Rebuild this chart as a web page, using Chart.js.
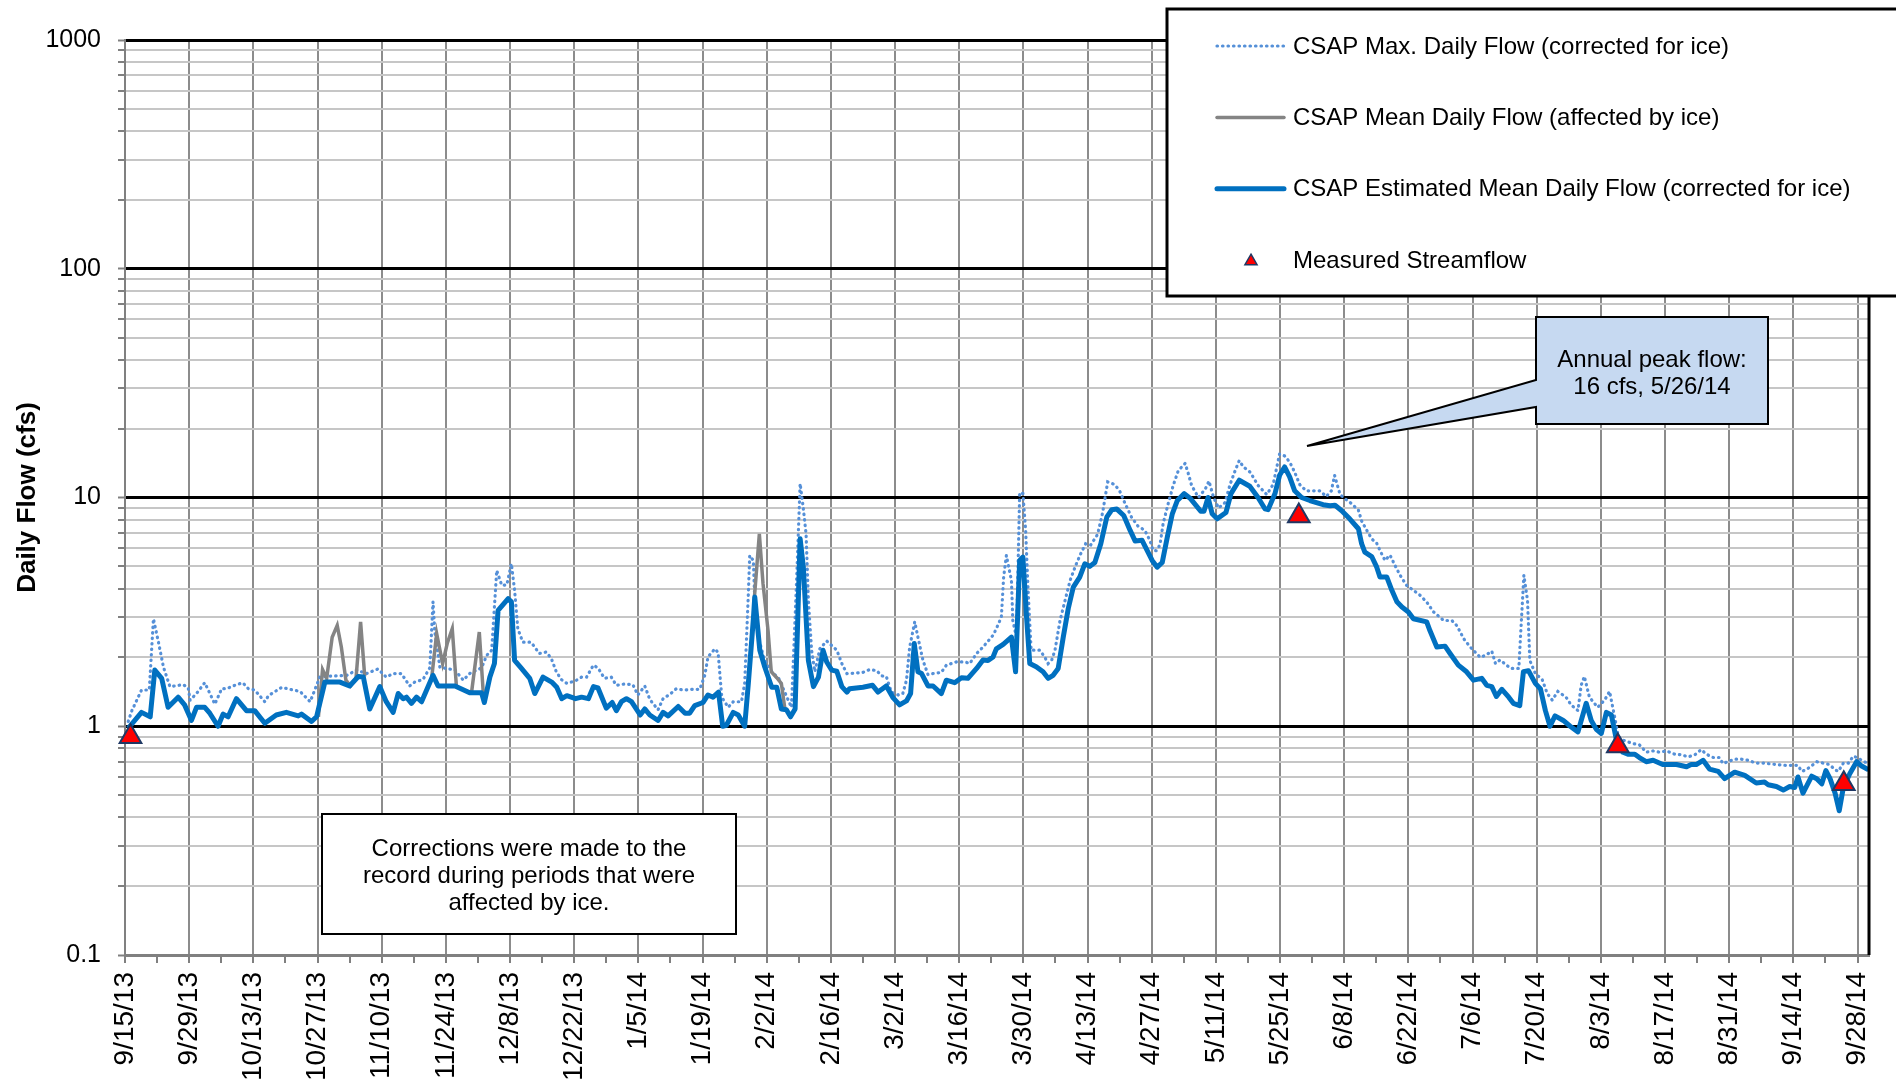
<!DOCTYPE html>
<html>
<head>
<meta charset="utf-8">
<script src="https://cdn.jsdelivr.net/npm/chart.js@4.4.1/dist/chart.umd.min.js"></script>
<style>
  html, body { margin: 0; padding: 0; background: #fff; }
  #wrap { width: 1896px; height: 1079px; }
</style>
</head>
<body>
<div id="wrap"><canvas id="flowChart" width="1896" height="1079"></canvas></div>
<script>
// x values are days counted from 9/15/13, y values are cfs
const tickLabels = ['9/15/13', '9/29/13', '10/13/13', '10/27/13', '11/10/13', '11/24/13', '12/8/13',
  '12/22/13', '1/5/14', '1/19/14', '2/2/14', '2/16/14', '3/2/14', '3/16/14', '3/30/14', '4/13/14',
  '4/27/14', '5/11/14', '5/25/14', '6/8/14', '6/22/14', '7/6/14', '7/20/14', '8/3/14', '8/17/14',
  '8/31/14', '9/14/14', '9/28/14'];
const yDecades = [0.1, 1, 10, 100, 1000];
const yMinorSteps = [2, 3, 4, 5, 6, 7, 8, 9];

// CSAP estimated mean daily flow (corrected for ice)
const meanFlow = [[0.7,0.98],[3.6,1.15],[5.5,1.10],[6.5,1.76],[8.0,1.62],[9.4,1.21],[11.6,1.34],[13.0,1.24],
  [14.5,1.06],[15.6,1.21],[17.4,1.21],[18.5,1.14],[20.3,1.00],[21.4,1.13],[22.5,1.10],[24.3,1.32],[26.5,1.17],
  [28.3,1.17],[30.5,1.03],[33.0,1.12],[35.2,1.15],[37.8,1.11],[38.5,1.13],[40.7,1.05],[41.8,1.10],[43.6,1.56],
  [46.9,1.56],[49.0,1.50],[50.9,1.65],[52.0,1.64],[53.4,1.19],[55.6,1.49],[57.0,1.28],[58.5,1.15],[59.6,1.39],
  [60.7,1.32],[61.4,1.34],[62.5,1.26],[63.6,1.34],[64.7,1.28],[67.2,1.67],[68.3,1.50],[72.0,1.50],[75.2,1.40],
  [77.8,1.40],[78.4,1.27],[79.6,1.64],[80.6,1.88],[81.4,3.21],[83.6,3.61],[84.3,3.50],[85.0,1.94],[86.5,1.79],
  [88.3,1.62],[89.4,1.39],[91.2,1.64],[93.1,1.56],[94.2,1.48],[95.3,1.32],[96.4,1.36],[98.3,1.32],[99.6,1.34],
  [101.1,1.32],[102.2,1.49],[103.2,1.47],[105.0,1.20],[106.3,1.27],[107.2,1.17],[108.3,1.28],[109.4,1.32],
  [110.5,1.28],[112.4,1.12],[113.4,1.19],[114.5,1.12],[116.3,1.06],[117.4,1.15],[118.5,1.11],[120.7,1.22],
  [122.2,1.14],[123.2,1.14],[124.3,1.23],[126.1,1.27],[127.2,1.37],[128.3,1.34],[129.5,1.41],[130.4,1.00],
  [131.2,1.01],[132.7,1.15],[133.8,1.12],[135.2,1.00],[136.0,1.54],[137.1,2.95],[137.4,3.67],[138.5,2.15],
  [139.6,1.81],[141.1,1.48],[142.2,1.48],[143.2,1.19],[144.3,1.18],[145.2,1.10],[146.2,1.19],[147.3,6.60],
  [148.0,4.96],[149.1,1.94],[150.2,1.49],[151.3,1.64],[152.3,2.15],[153.1,1.91],[154.2,1.76],[155.3,1.74],
  [156.4,1.49],[157.5,1.41],[158.1,1.46],[161.0,1.48],[163.1,1.51],[164.3,1.41],[166.1,1.50],[167.6,1.33],
  [169.0,1.24],[170.5,1.29],[171.4,1.39],[172.2,2.30],[173.0,1.73],[173.8,1.70],[175.2,1.50],[176.3,1.50],
  [178.1,1.39],[179.2,1.59],[181.0,1.55],[182.5,1.63],[183.9,1.62],[185.8,1.79],[187.2,1.95],[188.3,1.94],
  [189.4,2.01],[190.1,2.18],[191.6,2.28],[193.4,2.45],[194.3,1.73],[195.2,5.31],[195.9,5.49],[196.7,3.00],
  [197.4,1.88],[198.8,1.82],[200.3,1.73],[201.4,1.62],[202.5,1.67],[203.6,1.79],[204.7,2.45],[205.8,3.27],
  [206.9,4.06],[208.3,4.49],[209.4,5.13],[210.5,5.00],[211.6,5.20],[212.9,6.28],[214.2,8.20],[215.3,8.84],
  [216.4,8.90],[217.9,8.34],[219.3,7.18],[220.4,6.45],[221.9,6.50],[223.0,5.87],[224.1,5.31],[225.2,4.96],
  [226.3,5.20],[227.4,6.71],[228.5,8.49],[229.6,9.71],[231.1,10.4],[232.5,9.87],[234.7,8.71],[235.4,8.70],
  [236.3,10.0],[237.2,8.49],[238.3,8.07],[240.2,8.60],[241.3,10.4],[243.1,11.9],[245.4,11.2],[247.2,10.0],
  [248.7,8.93],[249.4,8.85],[250.9,10.4],[251.9,12.5],[253.0,13.6],[254.1,12.3],[255.2,10.7],[256.7,10.0],
  [258.5,9.7],[261.4,9.3],[262.9,9.2],[264.0,9.25],[265.4,8.77],[267.2,8.07],[269.1,7.3],[269.8,6.28],
  [270.5,5.77],[272.0,5.52],[273.1,4.96],[273.8,4.49],[275.3,4.49],[276.4,3.93],[277.5,3.50],[278.6,3.32],
  [280.0,3.16],[281.1,2.95],[284.0,2.86],[284.7,2.62],[286.2,2.22],[288.0,2.24],[289.1,2.08],[290.9,1.85],
  [292.7,1.73],[294.2,1.59],[296.0,1.62],[297.1,1.51],[298.2,1.49],[299.2,1.35],[300.4,1.45],[301.9,1.34],
  [302.9,1.26],[304.3,1.23],[305.1,1.73],[306.2,1.75],[307.7,1.54],[308.8,1.46],[309.9,1.17],[310.9,1.00],
  [312.0,1.11],[313.8,1.06],[315.3,1.00],[317.0,0.945],[318.8,1.26],[319.9,1.06],[321.0,0.97],[322.1,0.93],
  [323.2,1.15],[324.3,1.12],[325.4,0.87],[326.8,0.77],[327.9,0.755],[329.4,0.755],[330.4,0.73],[331.9,0.70],
  [333.4,0.71],[335.5,0.68],[338.5,0.68],[340.7,0.665],[341.7,0.68],[342.8,0.68],[344.3,0.71],[345.7,0.65],
  [347.6,0.635],[349.0,0.59],[351.2,0.63],[353.4,0.61],[355.9,0.565],[357.7,0.57],[358.5,0.555],[360.3,0.545],
  [361.8,0.526],[363.2,0.545],[364.3,0.54],[365.0,0.60],[366.1,0.51],[368.0,0.605],[369.1,0.59],[370.2,0.56],
  [371.1,0.64],[372.0,0.59],[373.1,0.51],[374.0,0.427],[374.9,0.54],[376.3,0.62],[377.8,0.70],[378.9,0.67],
  [380.4,0.645]];

// CSAP max. daily flow (corrected for ice)
const maxFlow = [[0.7,1.05],[1.5,1.17],[3.6,1.44],[5.3,1.44],[6.2,2.95],[7.3,2.33],[8.4,1.81],[9.8,1.49],
  [12.7,1.52],[13.8,1.47],[14.2,1.30],[15.6,1.39],[17.4,1.55],[18.9,1.34],[19.6,1.25],[21.1,1.46],[22.2,1.46],
  [24.3,1.52],[25.7,1.55],[26.9,1.46],[28.3,1.44],[30.5,1.28],[31.3,1.36],[34.2,1.48],[36.0,1.45],[38.2,1.42],
  [40.4,1.28],[42.5,1.64],[45.5,1.66],[48.4,1.67],[50.5,1.76],[52.7,1.70],[55.2,1.78],[57.0,1.64],[58.5,1.70],
  [60.3,1.70],[62.1,1.50],[63.2,1.56],[65.0,1.60],[66.5,1.80],[67.2,3.50],[67.6,2.58],[68.7,1.81],[72.0,1.76],
  [73.8,1.59],[75.2,1.70],[77.8,1.80],[78.9,2.04],[80.0,2.15],[81.1,4.80],[82.2,4.13],[83.3,4.15],[84.3,5.13],
  [85.0,3.93],[85.7,2.67],[86.8,2.33],[88.6,2.33],[90.4,2.08],[91.9,2.11],[93.0,1.98],[94.1,1.73],[95.2,1.60],
  [96.4,1.54],[98.3,1.58],[99.6,1.64],[100.7,1.64],[102.2,1.85],[103.2,1.80],[104.6,1.62],[106.1,1.64],
  [107.2,1.51],[109.0,1.53],[110.8,1.52],[111.9,1.37],[113.4,1.50],[114.5,1.31],[116.3,1.18],[117.4,1.32],
  [118.9,1.38],[120.3,1.46],[121.8,1.44],[124.0,1.45],[125.4,1.45],[126.5,1.67],[127.2,2.01],[128.7,2.18],
  [129.4,2.10],[130.2,1.34],[131.6,1.21],[132.7,1.28],[134.5,1.28],[135.2,1.54],[136.0,3.80],[136.3,5.58],
  [137.1,5.30],[137.4,3.55],[138.3,2.40],[139.5,1.95],[141.4,1.70],[142.5,1.64],[143.6,1.46],[145.4,1.21],
  [146.5,4.20],[147.3,11.5],[148.0,8.93],[148.6,6.90],[149.1,3.55],[149.8,2.15],[150.5,1.73],[151.6,2.18],
  [153.1,2.36],[155.3,2.15],[156.4,1.88],[157.5,1.70],[158.1,1.70],[161.0,1.72],[162.5,1.77],[164.0,1.75],
  [165.1,1.66],[166.1,1.65],[167.2,1.41],[168.7,1.37],[169.7,1.39],[170.5,1.59],[171.2,2.22],[172.3,2.86],
  [173.0,2.45],[174.1,1.94],[175.2,1.68],[176.3,1.70],[178.1,1.72],[179.2,1.85],[181.4,1.91],[183.3,1.91],
  [184.3,1.88],[185.8,2.08],[187.2,2.22],[189.4,2.50],[190.1,2.67],[191.2,3.00],[191.7,4.49],[192.3,5.58],
  [192.6,5.20],[193.4,4.34],[193.7,2.90],[194.5,2.45],[195.2,10.5],[195.9,10.4],[196.5,7.18],[197.0,4.06],
  [197.7,2.15],[199.6,2.15],[200.7,2.00],[201.4,1.88],[202.2,1.95],[202.9,2.15],[204.0,2.90],[205.1,3.55],
  [206.2,4.34],[207.4,5.04],[208.5,5.67],[209.6,6.28],[210.7,6.20],[212.2,6.90],[213.3,8.60],[214.4,11.7],
  [215.9,11.4],[217.0,10.7],[218.1,9.5],[219.6,8.2],[221.0,7.5],[222.5,7.18],[223.6,6.5],[224.3,5.87],
  [225.0,5.85],[225.8,6.2],[226.5,7.7],[227.6,9.4],[228.7,11.3],[229.8,13.1],[231.3,14.1],[232.0,12.7],
  [232.7,11.3],[234.2,10.0],[235.7,10.9],[236.5,11.8],[237.5,10.0],[238.6,9.0],[240.0,9.5],[241.1,11.4],
  [242.2,13.1],[243.1,14.5],[244.0,13.6],[245.5,12.9],[247.2,11.3],[249.1,10.3],[250.5,11.4],[251.9,15.5],
  [253.0,15.2],[254.1,14.3],[255.2,12.9],[256.3,11.4],[257.7,10.7],[260.7,10.7],[262.1,10.1],[263.2,10.7],
  [263.9,12.5],[265.1,10.3],[266.1,9.9],[267.6,9.4],[269.1,8.8],[269.8,7.9],[270.9,7.2],[272.0,6.6],
  [273.1,6.3],[273.8,5.87],[274.9,5.31],[276.0,5.6],[277.1,5.04],[278.2,4.57],[279.6,4.13],[281.1,3.93],
  [282.6,3.73],[284.0,3.49],[285.5,3.16],[287.7,2.90],[289.5,2.90],[290.6,2.75],[292.1,2.41],[293.5,2.22],
  [295.7,2.00],[297.0,2.05],[298.2,2.13],[299.0,1.88],[300.0,1.95],[302.3,1.79],[304.1,1.79],[304.5,2.54],
  [305.2,4.57],[306.0,3.55],[306.5,1.94],[307.7,1.70],[309.2,1.60],[310.3,1.39],[311.4,1.30],[312.6,1.42],
  [314.4,1.34],[315.5,1.24],[317.0,1.17],[317.7,1.51],[318.4,1.65],[319.5,1.34],[321.3,1.21],[322.8,1.30],
  [323.9,1.42],[325.0,1.10],[325.8,0.90],[326.8,0.87],[329.0,0.84],[330.4,0.83],[331.9,0.77],[333.4,0.78],
  [334.8,0.77],[336.3,0.78],[338.1,0.755],[339.6,0.75],[341.0,0.735],[342.5,0.75],[343.9,0.79],[345.0,0.755],
  [346.5,0.73],[347.9,0.73],[348.6,0.687],[349.7,0.70],[351.2,0.718],[352.6,0.718],[354.1,0.71],[355.9,0.69],
  [357.4,0.69],[358.9,0.685],[360.3,0.68],[362.2,0.675],[363.6,0.675],[365.0,0.675],[365.8,0.635],
  [366.8,0.645],[367.9,0.67],[369.1,0.70],[370.5,0.69],[371.9,0.68],[373.1,0.645],[373.8,0.635],[374.9,0.69],
  [376.0,0.69],[377.1,0.74],[378.2,0.725],[379.3,0.70],[380.4,0.69]];

// CSAP mean daily flow (affected by ice) - only visible where it departs from the corrected record
const iceFlow = [[42.2,1.10],[43.1,1.77],[44.0,1.62],[45.2,2.45],[46.3,2.76],[47.2,2.22],[48.2,1.59],
  [49.2,1.50],[50.4,1.62],[51.4,2.86],[52.3,1.65],[60,null],
  [66.9,1.62],[68.0,2.54],[69.3,1.88],[70.3,2.30],[71.4,2.67],[72.3,1.50],[74,null],
  [75.6,1.40],[77.3,2.58],[78.3,1.27],[100,null],
  [137.2,3.40],[138.4,6.94],[139.2,4.20],[140.3,2.62],[141.0,1.73],[142.2,1.63],[143.2,1.54],[144.0,1.18]];

// measured streamflow
const measuredFlow = [[1.2,0.90],[256.1,8.3],[325.7,0.82],[375.0,0.56]];

const FONT = "'Liberation Sans', Arial, Helvetica, sans-serif";
const xTicks = [];
tickLabels.forEach((t, i) => { xTicks.push(i * 14); if (i < tickLabels.length - 1) xTicks.push(i * 14 + 7); });
const yTicks = [];
yDecades.forEach((d, i) => {
  yTicks.push(d);
  if (i < yDecades.length - 1) yMinorSteps.forEach(s => yTicks.push(+(d * s).toPrecision(3)));
});
const pts = arr => arr.map(p => ({ x: p[0], y: p[1] }));

const overlay = {
  id: 'overlay',
  afterDatasetsDraw(chart) {
    const { ctx, chartArea: a } = chart;
    ctx.save();
    ctx.strokeStyle = '#000';
    ctx.lineWidth = 3;
    ctx.beginPath();
    ctx.moveTo(a.right, a.top - 1.5);
    ctx.lineTo(a.right, a.bottom);
    ctx.stroke();
    ctx.restore();
  },
  afterDraw(chart) {
    const ctx = chart.ctx;
    ctx.save();
    ctx.font = '24px ' + FONT;
    ctx.textAlign = 'center';
    ctx.textBaseline = 'middle';

    // ice note, lower left
    ctx.fillStyle = '#fff';
    ctx.fillRect(322, 814, 414, 120);
    ctx.strokeStyle = '#000';
    ctx.lineWidth = 2;
    ctx.strokeRect(322, 814, 414, 120);
    ctx.fillStyle = '#000';
    ['Corrections were made to the', 'record during periods that were', 'affected by ice.']
      .forEach((t, i) => ctx.fillText(t, 529, 849 + i * 27));

    // peak flow callout
    ctx.beginPath();
    ctx.moveTo(1536, 317);
    ctx.lineTo(1768, 317);
    ctx.lineTo(1768, 424);
    ctx.lineTo(1536, 424);
    ctx.lineTo(1536, 407);
    ctx.lineTo(1307, 446);
    ctx.lineTo(1536, 380);
    ctx.closePath();
    ctx.fillStyle = '#c6d9f1';
    ctx.fill();
    ctx.lineWidth = 2;
    ctx.strokeStyle = '#000';
    ctx.stroke();
    ctx.fillStyle = '#000';
    ctx.fillText('Annual peak flow:', 1652, 360);
    ctx.fillText('16 cfs, 5/26/14', 1652, 387);

    // legend
    ctx.fillStyle = '#fff';
    ctx.fillRect(1167, 9, 740, 287);
    ctx.lineWidth = 3;
    ctx.strokeRect(1167, 9, 740, 287);
    ctx.textAlign = 'left';
    chart.data.datasets.forEach((ds, i) => {
      const y = 46 + i * 71.4;
      if (ds.showLine === false) {
        ctx.beginPath();
        const r = 7, cx = 1251, cy = y + 1;
        ctx.moveTo(cx, cy - r);
        ctx.lineTo(cx + r * 0.866, cy + r / 2);
        ctx.lineTo(cx - r * 0.866, cy + r / 2);
        ctx.closePath();
        ctx.fillStyle = ds.backgroundColor;
        ctx.fill();
        ctx.lineWidth = 1.5;
        ctx.strokeStyle = ds.borderColor;
        ctx.stroke();
      } else {
        ctx.beginPath();
        ctx.setLineDash(ds.borderDash || []);
        ctx.lineCap = 'round';
        ctx.lineWidth = ds.borderWidth;
        ctx.strokeStyle = ds.borderColor;
        ctx.moveTo(1217, y);
        ctx.lineTo(1284, y);
        ctx.stroke();
        ctx.setLineDash([]);
      }
      ctx.fillStyle = '#000';
      ctx.fillText(ds.label, 1293, y + 1);
    });
    ctx.restore();
  }
};

Chart.defaults.font.family = FONT;
Chart.defaults.color = '#000';

new Chart(document.getElementById('flowChart'), {
  type: 'line',
  data: {
    datasets: [
      { label: 'CSAP Max. Daily Flow (corrected for ice)', data: pts(maxFlow), borderColor: '#5590d8',
        borderWidth: 3.2, borderDash: [0.5, 5], borderCapStyle: 'round', pointRadius: 0, order: 4 },
      { label: 'CSAP Mean Daily Flow (affected by ice)', data: pts(iceFlow), borderColor: '#848484',
        borderWidth: 3.5, pointRadius: 0, spanGaps: false, order: 3 },
      { label: 'CSAP Estimated Mean Daily Flow (corrected for ice)', data: pts(meanFlow), borderColor: '#0070c0',
        borderWidth: 5, borderJoinStyle: 'round', pointRadius: 0, order: 2 },
      { label: 'Measured Streamflow', data: pts(measuredFlow), showLine: false, pointStyle: 'triangle',
        pointRadius: 12.5, backgroundColor: '#ff0000', borderColor: '#1f3864', borderWidth: 2, clip: false, order: 1 }
    ]
  },
  options: {
    responsive: false,
    animation: false,
    layout: { padding: { left: 0, top: 40, right: 27, bottom: 0 } },
    plugins: { legend: { display: false }, tooltip: { enabled: false } },
    scales: {
      x: {
        type: 'linear', min: 0, max: 380.5,
        afterBuildTicks: s => { s.ticks = xTicks.map(v => ({ value: v })); },
        afterFit: s => { s.height = 124; },
        ticks: {
          autoSkip: false, maxRotation: 90, minRotation: 90, padding: 9,
          font: { size: 28, lineHeight: 1 }, color: '#000',
          callback: v => (v % 14 === 0 ? tickLabels[v / 14] : '')
        },
        grid: {
          color: c => (c.tick && c.tick.value % 14 === 0 ? '#8c8c8c' : 'rgba(0,0,0,0)'),
          lineWidth: 2, tickColor: '#808080', tickWidth: 2, tickLength: 8
        },
        border: { color: '#808080', width: 3 }
      },
      y: {
        type: 'logarithmic', min: 0.1, max: 1000,
        afterBuildTicks: s => { s.ticks = yTicks.map(v => ({ value: v })); },
        afterFit: s => { s.width = 125; },
        ticks: {
          autoSkip: false, padding: 17, font: { size: 25 }, color: '#000',
          callback: v => (yDecades.includes(v) ? String(v) : '')
        },
        grid: {
          color: c => {
            const v = c.tick && c.tick.value;
            if (v === 0.1) return '#808080';
            return yDecades.includes(v) ? '#000' : '#c6c6c6';
          },
          lineWidth: c => (c.tick && yDecades.includes(c.tick.value) ? 3 : 2),
          tickColor: '#808080', tickWidth: 2, tickLength: 7
        },
        border: { color: '#808080', width: 2 },
        title: { display: true, text: 'Daily Flow (cfs)', font: { size: 26, weight: 'bold' }, padding: { top: 12, bottom: 0 } }
      }
    }
  },
  plugins: [overlay]
});
</script>
</body>
</html>
